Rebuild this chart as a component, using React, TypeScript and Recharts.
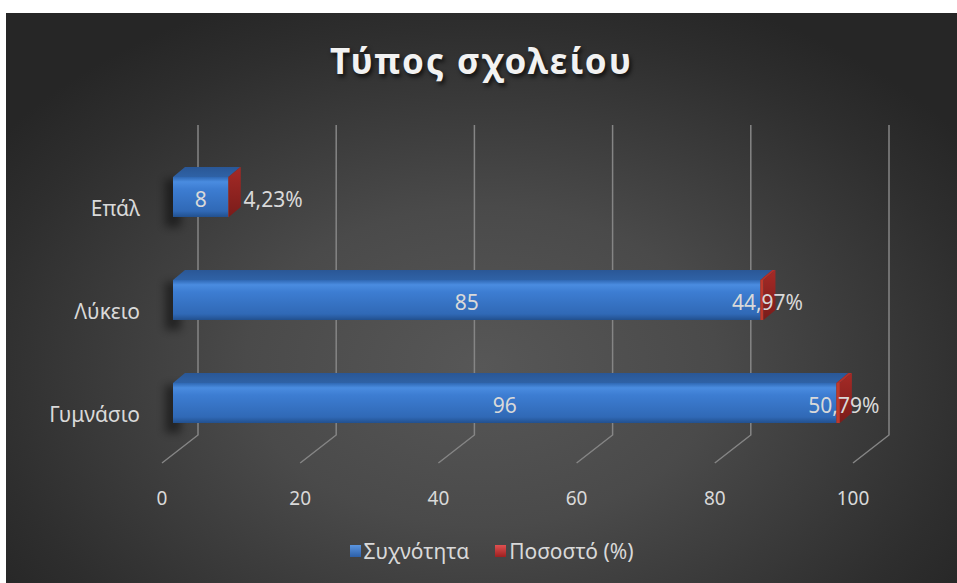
import { Bar, BarChart, CartesianGrid, LabelList, XAxis, YAxis } from 'recharts';

const categories = ['Επάλ', 'Λύκειο', 'Γυμνάσιο'];
const frequency = [8, 85, 96];
const percentage = [0.0423, 0.4497, 0.5079];
const xTicks = [0, 20, 40, 60, 80, 100];
const seriesNames = ['Συχνότητα', 'Ποσοστό (%)'];

const data = categories.map((name, i) => ({
  name,
  freq: frequency[i],
  pct: percentage[i],
}));

const FONT = '"Noto Sans", "Open Sans", sans-serif';
const TEXT = '#d9d9d9';
const GRID = '#858585';
// 3D depth of the bars and the floor
const DX = 12;
const DY = 10;
const BACK = 25;
const FRONT = 11;

const fmtPct = (v: number) => `${(v * 100).toFixed(2).replace('.', ',')}%`;

function BlueBar(props: any) {
  const { x, y, width, height } = props;
  if (!width || !height) return null;
  return (
    <g>
      <rect x={x - 8} y={y + 2} width={16} height={height + 8} fill="#000" opacity={0.45} filter="url(#blur)" />
      <polygon
        points={`${x},${y} ${x + DX},${y - DY} ${x + width + DX},${y - DY} ${x + width},${y}`}
        fill="url(#blueTop)"
      />
      <rect x={x} y={y} width={width} height={height} fill="url(#blueFront)" />
    </g>
  );
}

function RedBar(props: any) {
  const { x, y, width, height } = props;
  if (!height) return null;
  const w = Math.max(width, 0.5);
  return (
    <g>
      <polygon
        points={`${x},${y} ${x + DX},${y - DY} ${x + w + DX},${y - DY} ${x + w},${y}`}
        fill="#b3302c"
      />
      <rect x={x} y={y} width={w} height={height} fill="#c0392b" />
      <polygon
        points={`${x + w},${y} ${x + w + DX},${y - DY} ${x + w + DX},${y + height - DY} ${x + w},${y + height}`}
        fill="url(#redSide)"
      />
    </g>
  );
}

function PctLabel(props: any) {
  const { x, y, width, height, value, index } = props;
  const end = x + width;
  const outside = frequency[index] < 20;
  return (
    <text
      x={outside ? end + DX + 3 : end + 4}
      y={y + height / 2 + 2}
      textAnchor={outside ? 'start' : 'middle'}
      dominantBaseline="central"
      fill={TEXT}
      fontSize={21}
      fontFamily={FONT}
    >
      {fmtPct(value)}
    </text>
  );
}

function FloorLine(props: any) {
  const { x1, y1, y2 } = props;
  return (
    <path
      d={`M${x1 + BACK},${y1 - 20} L${x1 + BACK},${y2 - 19} L${x1 - FRONT},${y2 + 9}`}
      stroke={GRID}
      strokeWidth={1.5}
      fill="none"
    />
  );
}

function XTick(props: any) {
  const { x, y, payload } = props;
  return (
    <text x={x - FRONT} y={y + 36} textAnchor="middle" dominantBaseline="central" fill={TEXT} fontSize={19} fontFamily={FONT}>
      {payload.value}
    </text>
  );
}

function YTick(props: any) {
  const { x, y, payload } = props;
  return (
    <text x={x - 25} y={y + 11} textAnchor="end" dominantBaseline="central" fill={TEXT} fontSize={21} fontFamily={FONT}>
      {payload.value}
    </text>
  );
}

const markers = [
  'linear-gradient(#5b95e0, #2c5fa8)',
  'linear-gradient(#e05050, #9c2020)',
];

export default function App() {
  return (
    <div
      style={{
        position: 'absolute',
        left: 6,
        top: 13,
        width: 951,
        height: 570,
        background: 'radial-gradient(ellipse 62% 70% at 50% 62%, #575757 0%, #4a4a4a 40%, #2e2e2e 85%, #262626 100%)',
        fontFamily: FONT,
        overflow: 'hidden',
      }}
    >
      <div
        style={{
          position: 'absolute',
          top: 24,
          width: '100%',
          textAlign: 'center',
          color: '#f2f2f2',
          fontSize: 35,
          fontWeight: 700,
          letterSpacing: 2,
          textShadow: '2px 3px 4px rgba(0,0,0,0.7)',
        }}
      >
        Τύπος σχολείου
      </div>
      <BarChart
        width={951}
        height={570}
        data={data}
        layout="vertical"
        margin={{ top: 132, right: 93, bottom: 99, left: 0 }}
        barSize={40}
      >
        <defs>
          <linearGradient id="blueFront" x1="0" y1="0" x2="0" y2="1">
            <stop offset="0" stopColor="#2f68b4" />
            <stop offset="0.12" stopColor="#4a8ce0" />
            <stop offset="0.3" stopColor="#3d7dd2" />
            <stop offset="0.85" stopColor="#3069b6" />
            <stop offset="1" stopColor="#22508e" />
          </linearGradient>
          <linearGradient id="blueTop" x1="0" y1="0" x2="0" y2="1">
            <stop offset="0" stopColor="#2a5796" />
            <stop offset="1" stopColor="#2f62a6" />
          </linearGradient>
          <linearGradient id="redSide" x1="0" y1="0" x2="0" y2="1">
            <stop offset="0" stopColor="#a52a26" />
            <stop offset="1" stopColor="#7a1c1a" />
          </linearGradient>
          <filter id="blur" x="-1" y="-1" width="3" height="3">
            <feGaussianBlur stdDeviation="4" />
          </filter>
        </defs>
        <CartesianGrid horizontal={false} vertical={FloorLine} />
        <XAxis type="number" domain={[0, 100]} ticks={xTicks} axisLine={false} tickLine={false} tick={XTick} height={30} />
        <YAxis type="category" dataKey="name" width={167} axisLine={false} tickLine={false} tick={YTick} />
        <Bar dataKey="freq" name={seriesNames[0]} stackId="a" shape={BlueBar} isAnimationActive={false}>
          <LabelList dataKey="freq" position="center" offset={0} dy={3} fill={TEXT} fontSize={21} fontFamily={FONT} />
        </Bar>
        <Bar dataKey="pct" name={seriesNames[1]} stackId="a" shape={RedBar} isAnimationActive={false}>
          <LabelList dataKey="pct" content={PctLabel} />
        </Bar>
      </BarChart>
      <div
        style={{
          position: 'absolute',
          top: 524,
          left: 0,
          width: '100%',
          display: 'flex',
          justifyContent: 'center',
          paddingLeft: 20,
          boxSizing: 'border-box',
          color: TEXT,
          fontSize: 21,
          gap: 26,
        }}
      >
        {seriesNames.map((n, i) => (
          <div key={n} style={{ display: 'flex', alignItems: 'center', gap: 3 }}>
            <span style={{ width: 11, height: 12, background: markers[i], display: 'inline-block' }} />
            <span>{n}</span>
          </div>
        ))}
      </div>
    </div>
  );
}
